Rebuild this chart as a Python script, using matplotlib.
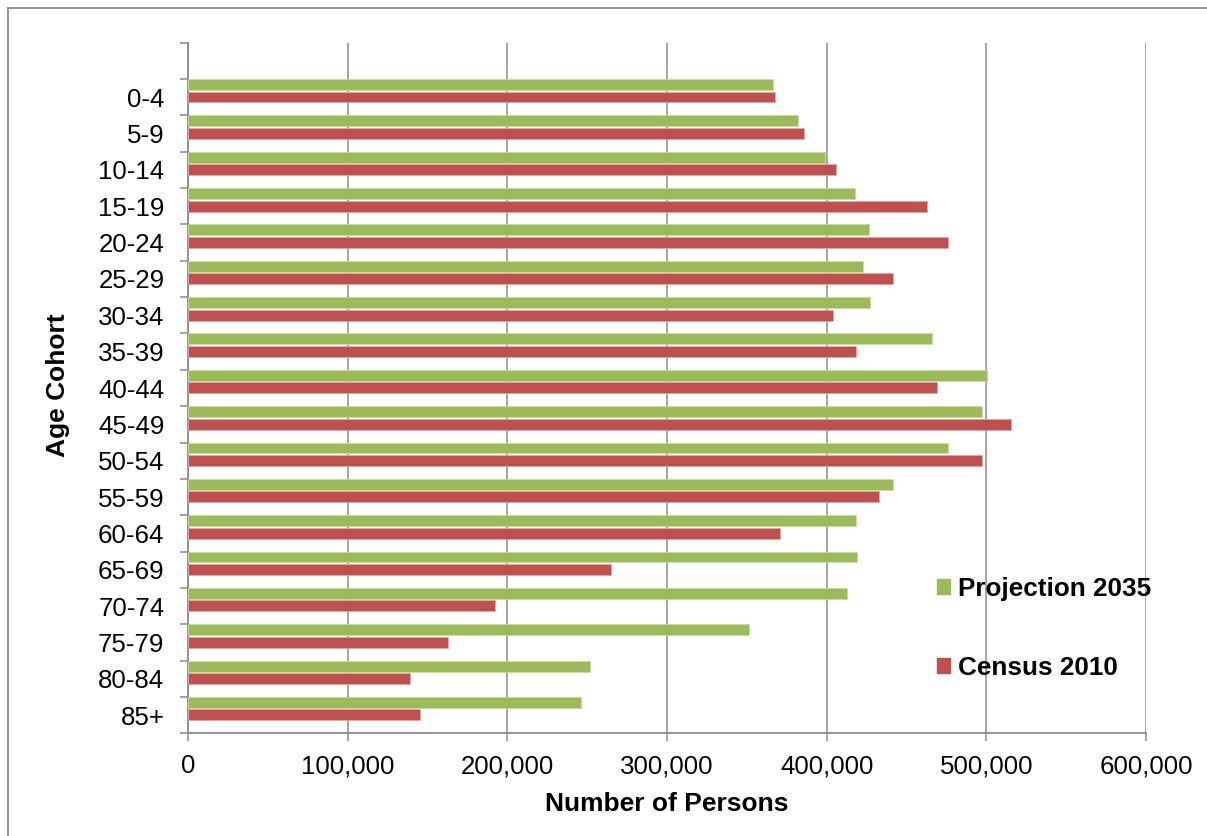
import matplotlib
matplotlib.use("Agg")
import matplotlib.pyplot as plt
from matplotlib.patches import Patch
from matplotlib.lines import Line2D
import numpy as np

plt.rcParams['font.family'] = ['Liberation Sans', 'DejaVu Sans']

cohorts = ["0-4", "5-9", "10-14", "15-19", "20-24", "25-29", "30-34", "35-39",
           "40-44", "45-49", "50-54", "55-59", "60-64", "65-69", "70-74",
           "75-79", "80-84", "85+"]
projection_2035 = [366100, 381800, 399100, 417500, 426600, 422700, 427200, 466100,
                   500500, 497200, 475900, 441500, 418300, 418900, 412500,
                   351100, 251700, 246300]
census_2010 = [367400, 385700, 405800, 462900, 475700, 441700, 403700, 418300,
               469000, 515500, 497200, 432900, 370700, 264700, 192200,
               162800, 138800, 145500]
x_ticks = [0, 100000, 200000, 300000, 400000, 500000, 600000]
x_tick_labels = ["0", "100,000", "200,000", "300,000", "400,000", "500,000", "600,000"]

GREEN = "#9BBB59"
RED = "#C0504D"
GRID = "#8C8C8C"

W, H = 1207, 836
fig = plt.figure(figsize=(W / 100, H / 100), dpi=100)
ax = fig.add_axes([188 / W, 1 - 733.3 / H, (1146 - 188) / W, (733.3 - 42.7) / H])

y = np.arange(len(cohorts))
bh = 0.30
ax.barh(y - 0.35, projection_2035, height=bh, color=GREEN, edgecolor="#C9DBA7",
        linewidth=0.6, zorder=3, label="Projection 2035")
ax.barh(y - 0.005, census_2010, height=bh, color=RED, edgecolor="#E0A8A6",
        linewidth=0.6, zorder=3, label="Census 2010")

ax.set_xlim(0, 600000)
ax.set_ylim(17.5, -1.5)

ax.set_xticks(x_ticks, labels=x_tick_labels)
ax.set_yticks(np.arange(-1.5, 18, 1.0))
ax.set_yticklabels([])
ax.set_yticks(y, labels=cohorts, minor=True)

ax.grid(axis="x", color=GRID, linewidth=1.1, zorder=0)
ax.set_axisbelow(True)

for s in ["top", "right"]:
    ax.spines[s].set_visible(False)
for s in ["left", "bottom"]:
    ax.spines[s].set_color(GRID)
    ax.spines[s].set_linewidth(1.3)

ax.tick_params(axis="x", which="major", direction="out", length=6, width=1.1,
               color=GRID, labelsize=18.6, pad=9)
ax.tick_params(axis="y", which="major", direction="out", length=6, width=1.1,
               color=GRID)
ax.tick_params(axis="y", which="minor", length=0, labelsize=18.6, pad=17)

ax.set_xlabel("Number of Persons", fontsize=19, fontweight="bold", labelpad=10)
ax.set_ylabel("Age Cohort", fontsize=19, fontweight="bold", labelpad=10)
ax.yaxis.set_label_coords((70 - 188) / (1146 - 188), (733.3 - 385) / (733.3 - 42.7))

handles = [Patch(facecolor=GREEN, edgecolor=GREEN), Patch(facecolor=RED, edgecolor=RED)]
fig.legend(handles, ["Projection 2035", "Census 2010"], loc="upper left",
           bbox_to_anchor=(937 / W, 1 - 577 / H), frameon=False,
           prop={"size": 18.8, "weight": "bold"}, handlelength=0.5, handleheight=0.5,
           handletextpad=0.3, labelspacing=2.1, borderpad=0, borderaxespad=0)

# outer chart border
fig.add_artist(Line2D([8 / W, 1.0], [1 - 8 / H, 1 - 8 / H], color=GRID, linewidth=1.3,
                      transform=fig.transFigure))
fig.add_artist(Line2D([8 / W, 8 / W], [0, 1 - 8 / H], color=GRID, linewidth=1.3,
                      transform=fig.transFigure))

fig.savefig("out.png", dpi=100)
